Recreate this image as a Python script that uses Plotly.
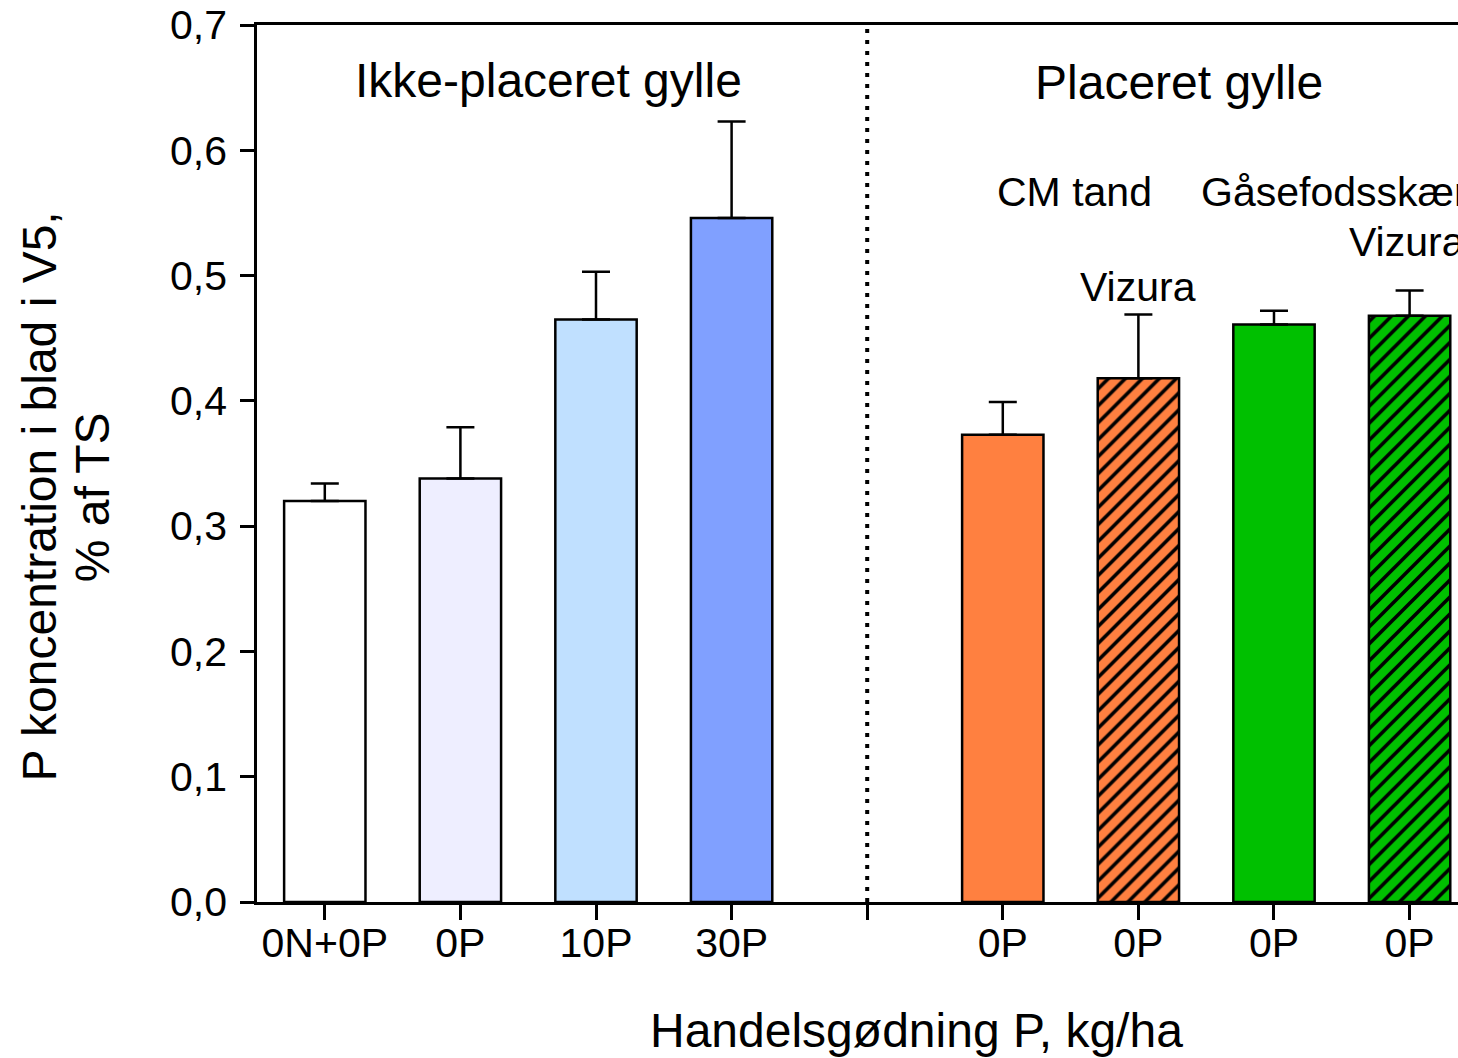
import plotly.graph_objects as go

# Bar positions (slot 4 is the gap between the two manure groups)
positions = [0, 1, 2, 3, 5, 6, 7, 8]
p_conc = [0.320, 0.338, 0.465, 0.546, 0.373, 0.418, 0.461, 0.468]
p_err = [0.014, 0.041, 0.038, 0.077, 0.026, 0.051, 0.011, 0.020]
bar_colors = ["#FFFFFF", "#EEEEFF", "#C0E0FF", "#80A0FF",
              "#FF8040", "#FF8040", "#00C000", "#00C000"]
bar_hatch = ["", "", "", "", "", "/", "", "/"]

tick_positions = [0, 1, 2, 3, 4, 5, 6, 7, 8]
tick_labels = ["0N+0P", "0P", "10P", "30P", "", "0P", "0P", "0P", "0P"]
y_tickvals = [0.0, 0.1, 0.2, 0.3, 0.4, 0.5, 0.6, 0.7]
y_ticklabels = ["0,0", "0,1", "0,2", "0,3", "0,4", "0,5", "0,6", "0,7"]

FONT = "Liberation Sans, Arial, sans-serif"

fig = go.Figure()
# one trace per bar so each can carry its own fill / hatch settings
for xi, yi, ei, col, hatch in zip(positions, p_conc, p_err, bar_colors, bar_hatch):
    marker = dict(color=col, line=dict(color="black", width=2.5))
    if hatch:
        marker["pattern"] = dict(shape=hatch, fillmode="replace", bgcolor=col,
                                 fgcolor="black", fgopacity=1, size=12, solidity=0.3)
    fig.add_trace(go.Bar(
        x=[xi], y=[yi], width=0.6, marker=marker,
        error_y=dict(type="data", symmetric=False, array=[ei], arrayminus=[0],
                     color="black", thickness=2.5, width=14),
        showlegend=False,
    ))

# dotted separator between the two groups
fig.add_shape(type="line", x0=4, x1=4, y0=0, y1=0.7, xref="x", yref="y",
              line=dict(color="black", width=4, dash="4px,7px"))

group_text = dict(font=dict(family=FONT, size=48, color="black"), showarrow=False)
sub_text = dict(font=dict(family=FONT, size=41, color="black"), showarrow=False)
axis_title = dict(font=dict(family=FONT, size=48, color="black"), showarrow=False,
                  xref="paper", yref="paper", xanchor="center", yanchor="middle")
annotations = [
    dict(text="Ikke-placeret gylle", x=1.65, y=0.656, xref="x", yref="y", **group_text),
    dict(text="Placeret gylle", x=6.3, y=0.654, xref="x", yref="y", **group_text),
    dict(text="CM tand", x=5.53, y=0.567, xref="x", yref="y", **sub_text),
    dict(text="Gåsefodsskær", x=6.45, y=0.567, xref="x", yref="y", xanchor="left", **sub_text),
    dict(text="Vizura", x=6.0, y=0.491, xref="x", yref="y", **sub_text),
    dict(text="Vizura", x=7.54, y=0.527, xref="x", yref="y", xanchor="left", **sub_text),
    dict(text="Handelsgødning P, kg/ha", x=0.549, y=-0.146, **axis_title),
    dict(text="P koncentration i blad i V5,", x=-0.181, y=0.462, textangle=-90, **axis_title),
    dict(text="% af TS", x=-0.137, y=0.462, textangle=-90, **axis_title),
]

fig.update_layout(
    width=1458, height=1058,
    margin=dict(l=257, r=0, t=25, b=156),
    plot_bgcolor="white", paper_bgcolor="white",
    font=dict(family=FONT, color="black"),
    barmode="overlay",
    annotations=annotations,
)
fig.update_xaxes(
    range=[-0.5, 8.357],
    tickvals=tick_positions, ticktext=tick_labels,
    tickfont=dict(family=FONT, size=41, color="black"),
    ticklabelstandoff=-12,
    showline=True, linecolor="black", linewidth=2.5, mirror=True,
    ticks="outside", ticklen=15, tickwidth=2.5, tickcolor="black",
    showgrid=False, zeroline=False,
)
fig.update_yaxes(
    range=[0, 0.7],
    tickvals=y_tickvals, ticktext=y_ticklabels,
    tickfont=dict(family=FONT, size=41, color="black"),
    ticklabelstandoff=5,
    showline=True, linecolor="black", linewidth=2.5,
    ticks="outside", ticklen=14, tickwidth=2.5, tickcolor="black",
    showgrid=False, zeroline=False,
)

fig.write_html("out.html")
